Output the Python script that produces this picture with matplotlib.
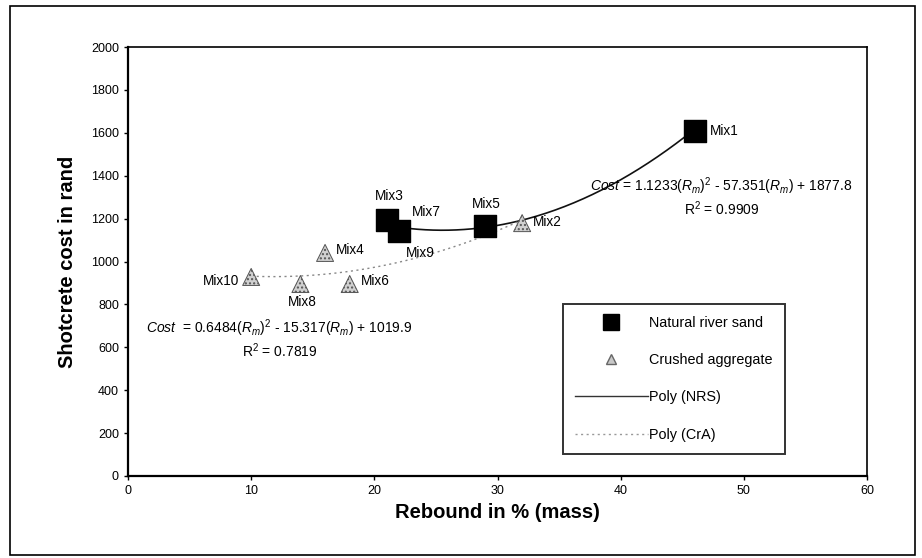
import numpy as np
import matplotlib
matplotlib.use("Agg")
import matplotlib.pyplot as plt
from matplotlib.patches import Rectangle
from matplotlib.lines import Line2D

plt.rcParams['font.family'] = ['Liberation Sans', 'DejaVu Sans']
plt.rcParams['mathtext.fontset'] = 'custom'
plt.rcParams['mathtext.rm'] = 'Liberation Sans'
plt.rcParams['mathtext.it'] = 'Liberation Sans:italic'

# Natural river sand mixes
nrs_labels = ["Mix1", "Mix3", "Mix7", "Mix5"]
nrs_rebound = [46, 21, 22, 29]
nrs_cost = [1608, 1193, 1142, 1165]

# Crushed aggregate mixes
cra_labels = ["Mix2", "Mix4", "Mix6", "Mix8", "Mix10"]
cra_rebound = [32, 16, 18, 14, 10]
cra_cost = [1179, 1040, 895, 895, 928]

# Quadratic trend coefficients
nrs_poly = [1.1233, -57.351, 1877.8]
cra_poly = [0.6484, -15.317, 1019.9]

fig = plt.figure(figsize=(9.22, 5.58), dpi=100)
fig.patches.append(Rectangle((10 / 922, 1 - 555 / 558), 905 / 922, 549 / 558,
                             transform=fig.transFigure, fill=False,
                             edgecolor='black', linewidth=1.2))

ax = fig.add_axes([128 / 922, 1 - 476 / 558, 739 / 922, 429 / 558])

# trend lines
xn = np.linspace(min(nrs_rebound), max(nrs_rebound), 200)
ax.plot(xn, np.polyval(nrs_poly, xn), color='#111111', lw=1.2, zorder=2)
xc = np.linspace(min(cra_rebound), max(cra_rebound), 200)
ax.plot(xc, np.polyval(cra_poly, xc), color='#888888', lw=1.0,
        ls=(0, (1.5, 2.5)), zorder=2)

# data points
ax.scatter(nrs_rebound, nrs_cost, marker='s', s=260, color='black', zorder=3)
ax.scatter(cra_rebound, cra_cost, marker='^', s=150, facecolor='#d0d0d0',
           edgecolor='#555555', linewidth=0.7, hatch='....', zorder=3)

lab_kw = dict(textcoords='offset points', fontsize=9.8)
offsets = {
    "Mix1": (11, 0, 'left', 'center'),
    "Mix3": (2, 17, 'center', 'center'),
    "Mix7": (9, 14, 'left', 'center'),
    "Mix5": (1, 16, 'center', 'center'),
    "Mix2": (8, 1, 'left', 'center'),
    "Mix4": (8, 2, 'left', 'center'),
    "Mix6": (8, 2, 'left', 'center'),
    "Mix8": (1, -13, 'center', 'center'),
    "Mix10": (-9, -3, 'right', 'center'),
}
for name, x, y in zip(nrs_labels + cra_labels, nrs_rebound + cra_rebound,
                      nrs_cost + cra_cost):
    dx, dy, ha, va = offsets[name]
    ax.annotate(name, (x, y), xytext=(dx, dy), ha=ha, va=va, **lab_kw)
ax.annotate("Mix9", (22, 1142), xytext=(5, -16), ha='left', va='center', **lab_kw)

# trend equations
ax.text(48.2, 1352,
        r"$\it{Cost}$ = 1.1233($\it{R_m}$)$^2$ - 57.351($\it{R_m}$) + 1877.8",
        fontsize=10, ha='center', va='center')
ax.text(48.2, 1245, r"R$^2$ = 0.9909", fontsize=10, ha='center', va='center')
ax.text(12.3, 690,
        r"$\it{Cost}$  = 0.6484($\it{R_m}$)$^2$ - 15.317($\it{R_m}$) + 1019.9",
        fontsize=10, ha='center', va='center')
ax.text(12.3, 585, r"R$^2$ = 0.7819", fontsize=10, ha='center', va='center')

ax.set_xlim(0, 60)
ax.set_ylim(0, 2000)
ax.set_xticks(np.arange(0, 61, 10))
ax.set_yticks(np.arange(0, 2001, 200))
ax.tick_params(direction='out', length=3, width=1, labelsize=9)
for side in ['left', 'bottom']:
    ax.spines[side].set_linewidth(1.6)
for side in ['top', 'right']:
    ax.spines[side].set_linewidth(1.2)

ax.set_xlabel("Rebound in % (mass)", fontsize=14.5, fontweight='bold', labelpad=4)
ax.set_ylabel("Shotcrete cost in rand", fontsize=14.5, fontweight='bold', labelpad=10)

handles = [
    Line2D([], [], marker='s', color='black', ls='none', markersize=11),
    Line2D([], [], marker='^', markerfacecolor='#c8c8c8',
           markeredgecolor='#666666', ls='none', markersize=7),
    Line2D([], [], color='#333333', lw=1.0),
    Line2D([], [], color='#999999', lw=1.0, ls=(0, (1.5, 2.5))),
]
names = ["Natural river sand", "Crushed aggregate", "Poly (NRS)", "Poly (CrA)"]
leg = ax.legend(handles, names, loc='upper left',
                bbox_to_anchor=((563 - 128) / 739, (476 - 304) / 429),
                borderaxespad=0, fontsize=10.4, frameon=True, fancybox=False,
                edgecolor='black', handlelength=5.0, labelspacing=1.6,
                borderpad=0.85, handletextpad=0.1)
leg.get_frame().set_linewidth(1.4)

fig.savefig("out.png", dpi=100)
